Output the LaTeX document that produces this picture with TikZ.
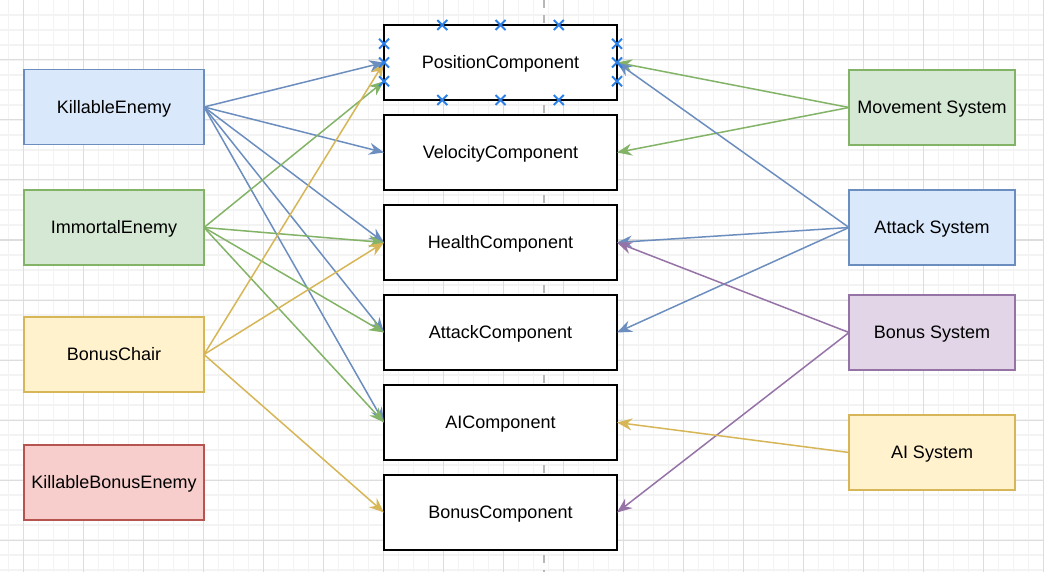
\documentclass[tikz,border=0pt]{standalone}
\usepackage{fontspec}
\setmainfont{Liberation Sans}
\usetikzlibrary{arrows.meta,calc}
\definecolor{bfill}{HTML}{DAE8FC}\definecolor{bline}{HTML}{6C8EBF}
\definecolor{gfill}{HTML}{D5E8D4}\definecolor{gline}{HTML}{82B366}
\definecolor{yfill}{HTML}{FFF2CC}\definecolor{yline}{HTML}{D6B656}
\definecolor{rfill}{HTML}{F8CECC}\definecolor{rline}{HTML}{B85450}
\definecolor{pfill}{HTML}{E1D5E7}\definecolor{pline}{HTML}{9673A6}
\definecolor{minorc}{HTML}{F3F3F3}\definecolor{majorc}{HTML}{DDDDDD}
\definecolor{dashc}{HTML}{B8B8B8}\definecolor{crossc}{HTML}{2B7FE8}
\begin{document}
\begin{tikzpicture}[x=1pt,y=-1pt,
  box/.style={draw,line width=1.5pt,inner sep=0pt,outer sep=0pt,minimum height=75pt,
    text height=12.9pt,text depth=0pt,
    font=\fontsize{18pt}{21pt}\selectfont},
  ent/.style={box,minimum width=180pt},
  sys/.style={box,minimum width=166pt},
  comp/.style={box,draw=black,fill=white,line width=2.5pt,minimum width=233pt},
  conn/.style={line width=1.5pt,-{Stealth[length=15pt,width=12pt,inset=5pt]}},
  minorgrid/.style={draw=minorc,line width=1.5pt},
  majorgrid/.style={draw=majorc,line width=1pt},
  dashline/.style={draw=dashc,line width=1.5pt,dash pattern=on 8pt off 7pt},
  xmark/.style={draw=crossc,line width=2pt}]
\useasboundingbox (0,0) rectangle (1044,572);
\fill[white] (0,0) rectangle (1044,572);
% grid
\foreach \x in {8.333,23.333,...,1044} {\draw[minorgrid] (\x,0) -- (\x,572);}
\foreach \y in {15,30,...,572} {\draw[minorgrid] (0,\y) -- (1044,\y);}
\foreach \x in {23.333,83.333,...,1044} {\draw[majorgrid] (\x,0) -- (\x,572);}
\foreach \y in {0,60,...,572} {\draw[majorgrid] (0,\y) -- (1044,\y);}
% dashed guide
\coordinate (dtop) at (544,0);
\coordinate (dbot) at (544,572);
\draw[dashline] (dtop) -- (dbot);
% entities
\node[ent,fill=bfill,draw=bline] (ke) at (114,107) {KillableEnemy};
\node[ent,fill=gfill,draw=gline] (ie) at (114,227.5) {ImmortalEnemy};
\node[ent,fill=yfill,draw=yline] (bc) at (114,354.5) {BonusChair};
\node[ent,fill=rfill,draw=rline] (kbe) at (114,482.5) {KillableBonusEnemy};
% components
\node[comp] (pos) at (500.5,62.5) {PositionComponent};
\node[comp] (vel) at (500.5,152.5) {VelocityComponent};
\node[comp] (hea) at (500.5,242.5) {HealthComponent};
\node[comp] (att) at (500.5,332.5) {AttackComponent};
\node[comp] (aic) at (500.5,422.5) {AIComponent};
\node[comp] (bon) at (500.5,512.5) {BonusComponent};
% systems
\node[sys,fill=gfill,draw=gline] (ms) at (932,107.5) {Movement System};
\node[sys,fill=bfill,draw=bline] (as) at (932,227.5) {Attack System};
\node[sys,fill=pfill,draw=pline] (bs) at (932,332.5) {Bonus System};
\node[sys,fill=yfill,draw=yline] (ais) at (932,452.5) {AI System};
\coordinate (posLlow) at ([yshift=-18.75pt]pos.west);
% KillableEnemy
\draw[conn,bline] (ke.east) -- (pos.west);
\draw[conn,bline] (ke.east) -- (vel.west);
\draw[conn,bline] (ke.east) -- (hea.west);
\draw[conn,bline] (ke.east) -- (att.west);
\draw[conn,bline] (ke.east) -- (aic.west);
% ImmortalEnemy
\draw[conn,gline] (ie.east) -- (posLlow);
\draw[conn,gline] (ie.east) -- (hea.west);
\draw[conn,gline] (ie.east) -- (att.west);
\draw[conn,gline] (ie.east) -- (aic.west);
% BonusChair
\draw[conn,yline] (bc.east) -- (pos.west);
\draw[conn,yline] (bc.east) -- (hea.west);
\draw[conn,yline] (bc.east) -- (bon.west);
% systems
\draw[conn,gline] (ms.west) -- (pos.east);
\draw[conn,gline] (ms.west) -- (vel.east);
\draw[conn,bline] (as.west) -- (pos.east);
\draw[conn,bline] (as.west) -- (hea.east);
\draw[conn,bline] (as.west) -- (att.east);
\draw[conn,pline] (bs.west) -- (hea.east);
\draw[conn,pline] (bs.west) -- (bon.east);
\draw[conn,yline] (ais.west) -- (aic.east);
% selection handles on PositionComponent
\foreach \f in {0.25,0.5,0.75} {
  \draw[xmark] ($(pos.north west)!\f!(pos.north east)$) +(-5,-5) -- +(5,5) +(-5,5) -- +(5,-5);
  \draw[xmark] ($(pos.south west)!\f!(pos.south east)$) +(-5,-5) -- +(5,5) +(-5,5) -- +(5,-5);
  \draw[xmark] ($(pos.north west)!\f!(pos.south west)$) +(-5,-5) -- +(5,5) +(-5,5) -- +(5,-5);
  \draw[xmark] ($(pos.north east)!\f!(pos.south east)$) +(-5,-5) -- +(5,5) +(-5,5) -- +(5,-5);
}
\end{tikzpicture}
\end{document}
